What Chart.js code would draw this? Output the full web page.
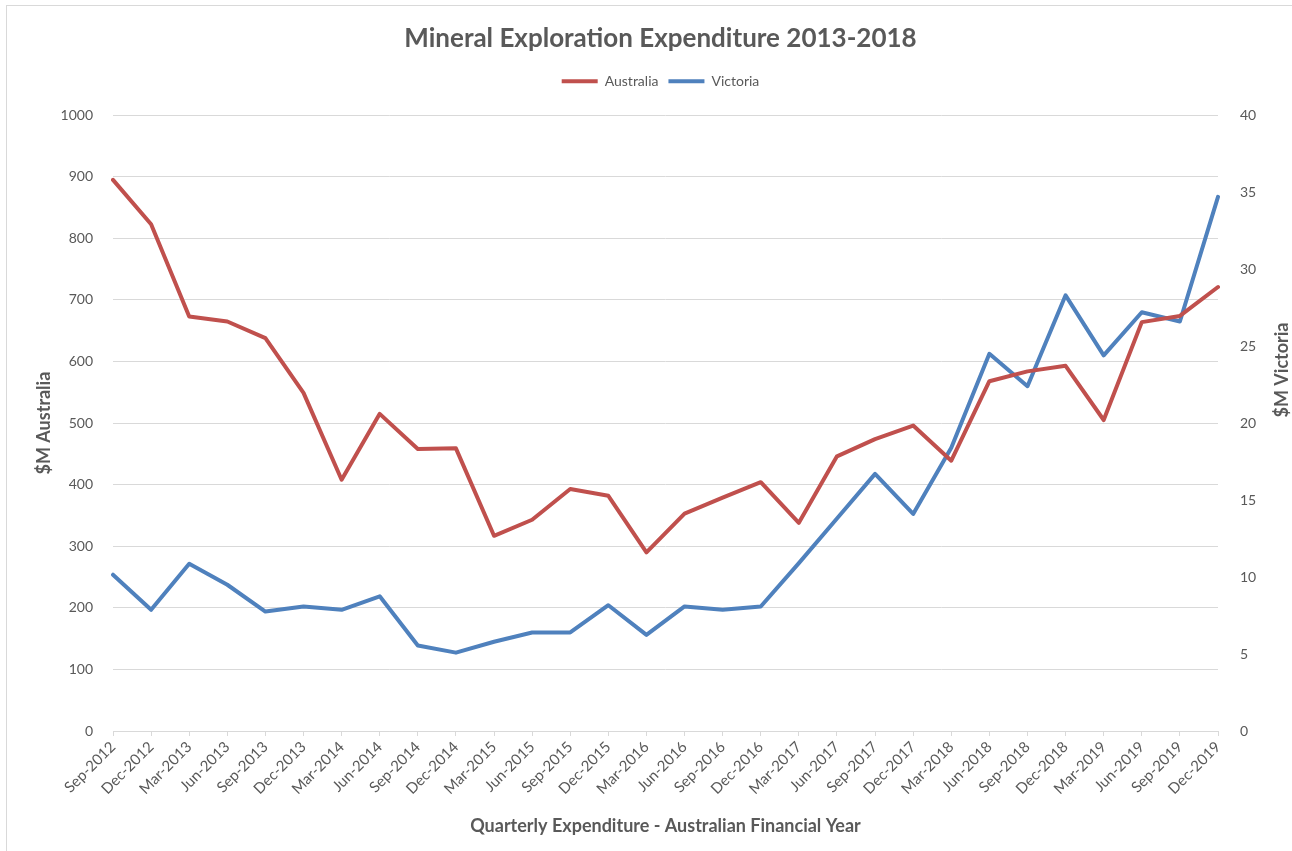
<!DOCTYPE html>
<html>
<head>
<meta charset="utf-8">
<title>Mineral Exploration Expenditure 2013-2018</title>
<script src="https://cdn.jsdelivr.net/npm/chart.js@4.4.1/dist/chart.umd.min.js"></script>
<style>
    html, body { margin: 0; padding: 0; background: #fff; }
    #wrap { position: relative; width: 1292px; height: 851px; overflow: hidden; }
    #frame {
        position: absolute; left: 6px; top: 5px; width: 1400px; height: 900px;
        border-top: 1px solid #d9d9d9; border-left: 1px solid #d9d9d9;
    }
    canvas { position: absolute; left: 0; top: 0; }
</style>
</head>
<body>
<div id="wrap">
    <div id="frame"></div>
    <canvas id="chart" width="1292" height="851"></canvas>
</div>
<script>
// ─── DATA ─────────────────────────────────────────────────────
const quarters = [
    "Sep-2012", "Dec-2012", "Mar-2013", "Jun-2013", "Sep-2013", "Dec-2013",
    "Mar-2014", "Jun-2014", "Sep-2014", "Dec-2014", "Mar-2015", "Jun-2015",
    "Sep-2015", "Dec-2015", "Mar-2016", "Jun-2016", "Sep-2016", "Dec-2016",
    "Mar-2017", "Jun-2017", "Sep-2017", "Dec-2017", "Mar-2018", "Jun-2018",
    "Sep-2018", "Dec-2018", "Mar-2019", "Jun-2019", "Sep-2019", "Dec-2019"
];

// $M Australia (left axis)
const australia = [
    895, 823, 673, 665, 638, 549, 408, 515, 458, 459,
    317, 343, 393, 382, 290, 353, 379, 404, 338, 446,
    474, 496, 439, 568, 584, 593, 505, 664, 674, 721
];

// $M Victoria (right axis)
const victoria = [
    10.15, 7.87, 10.86, 9.5, 7.76, 8.09, 7.87, 8.75, 5.55, 5.09,
    5.8, 6.4, 6.4, 8.17, 6.24, 8.09, 7.87, 8.09, 10.9, 13.8,
    16.7, 14.1, 18.4, 24.5, 22.4, 28.3, 24.4, 27.2, 26.6, 34.7
];

const leftAxis  = { min: 0, max: 1000, step: 100 };
const rightAxis = { min: 0, max: 40,   step: 5 };

// ─── STYLE ────────────────────────────────────────────────────
const FONT   = "Lato, 'Open Sans', sans-serif";
const TEXT   = "#595959";
const GRID   = "#d9d9d9";
const RED    = "#c0504d";
const BLUE   = "#4f81bd";

// push the plot area down a bit below the legend
const legendGap = {
    id: "legendGap",
    beforeInit(chart) {
        const fit = chart.legend.fit;
        chart.legend.fit = function () {
            fit.bind(this)();
            this.height += 17;
        };
    }
};

// right axis title reads bottom-to-top like the left one
const rightTitle = {
    id: "rightTitle",
    afterDraw(chart) {
        const ctx = chart.ctx;
        const axis = chart.scales.y1;
        ctx.save();
        ctx.translate(axis.right - 10, 370);
        ctx.rotate(-Math.PI / 2);
        ctx.fillStyle = TEXT;
        ctx.font = "bold 18px " + FONT;
        ctx.textAlign = "center";
        ctx.textBaseline = "middle";
        ctx.fillText("$M Victoria", 0, 0);
        ctx.restore();
    }
};

function initChart() {
    const ctx = document.getElementById("chart").getContext("2d");
    new Chart(ctx, {
        type: "line",
        data: {
            labels: quarters,
            datasets: [
                {
                    label: "Australia",
                    data: australia,
                    yAxisID: "y",
                    borderColor: RED,
                    backgroundColor: RED,
                    borderWidth: 4,
                    pointRadius: 0,
                    tension: 0,
                    borderCapStyle: "round",
                    borderJoinStyle: "round"
                },
                {
                    label: "Victoria",
                    data: victoria,
                    yAxisID: "y1",
                    borderColor: BLUE,
                    backgroundColor: BLUE,
                    borderWidth: 4,
                    pointRadius: 0,
                    tension: 0,
                    borderCapStyle: "round",
                    borderJoinStyle: "round"
                }
            ]
        },
        options: {
            responsive: false,
            animation: false,
            layout: { padding: { top: 5, left: 29, right: 0, bottom: 8 } },
            plugins: {
                title: {
                    display: true,
                    text: "Mineral Exploration Expenditure 2013-2018",
                    color: TEXT,
                    font: { family: FONT, size: 26, weight: "bold" },
                    padding: { top: 18, bottom: 10 }
                },
                legend: {
                    labels: {
                        color: TEXT,
                        font: { family: FONT, size: 14 },
                        boxWidth: 36,
                        boxHeight: 4,
                        padding: 10,
                        generateLabels(chart) {
                            return chart.data.datasets.map((ds, i) => ({
                                text: ds.label,
                                fillStyle: ds.borderColor,
                                strokeStyle: ds.borderColor,
                                lineWidth: 0,
                                fontColor: TEXT,
                                datasetIndex: i
                            }));
                        }
                    }
                },
                tooltip: { enabled: false }
            },
            scales: {
                x: {
                    offset: false,
                    grid: {
                        drawOnChartArea: false,
                        drawTicks: true,
                        tickLength: 5,
                        color: GRID
                    },
                    border: { color: GRID },
                    ticks: {
                        color: TEXT,
                        font: { family: FONT, size: 15 },
                        autoSkip: false,
                        maxRotation: 45,
                        minRotation: 45,
                        padding: 2
                    },
                    title: {
                        display: true,
                        text: "Quarterly Expenditure - Australian Financial Year",
                        color: TEXT,
                        font: { family: FONT, size: 18, weight: "bold" },
                        padding: { top: 22, bottom: 6 }
                    },
                    afterFit(axis) { axis.height = 112; }
                },
                y: {
                    position: "left",
                    min: leftAxis.min,
                    max: leftAxis.max,
                    grid: { color: GRID, drawTicks: false },
                    border: { display: false },
                    ticks: {
                        stepSize: leftAxis.step,
                        color: TEXT,
                        font: { family: FONT, size: 14 },
                        padding: 20,
                        callback: v => String(v)
                    },
                    title: {
                        display: true,
                        text: "$M Australia",
                        color: TEXT,
                        font: { family: FONT, size: 18, weight: "bold" },
                        padding: { top: 4, bottom: 0 }
                    },
                    afterFit(axis) { axis.width = 84; }
                },
                y1: {
                    position: "right",
                    min: rightAxis.min,
                    max: rightAxis.max,
                    grid: { drawOnChartArea: false, drawTicks: false },
                    border: { display: false },
                    ticks: {
                        stepSize: rightAxis.step,
                        color: TEXT,
                        font: { family: FONT, size: 14 },
                        padding: 22,
                        callback: v => String(v)
                    },
                    afterFit(axis) { axis.width = 74; }
                }
            }
        },
        plugins: [legendGap, rightTitle]
    });
}

initChart();
</script>
</body>
</html>
